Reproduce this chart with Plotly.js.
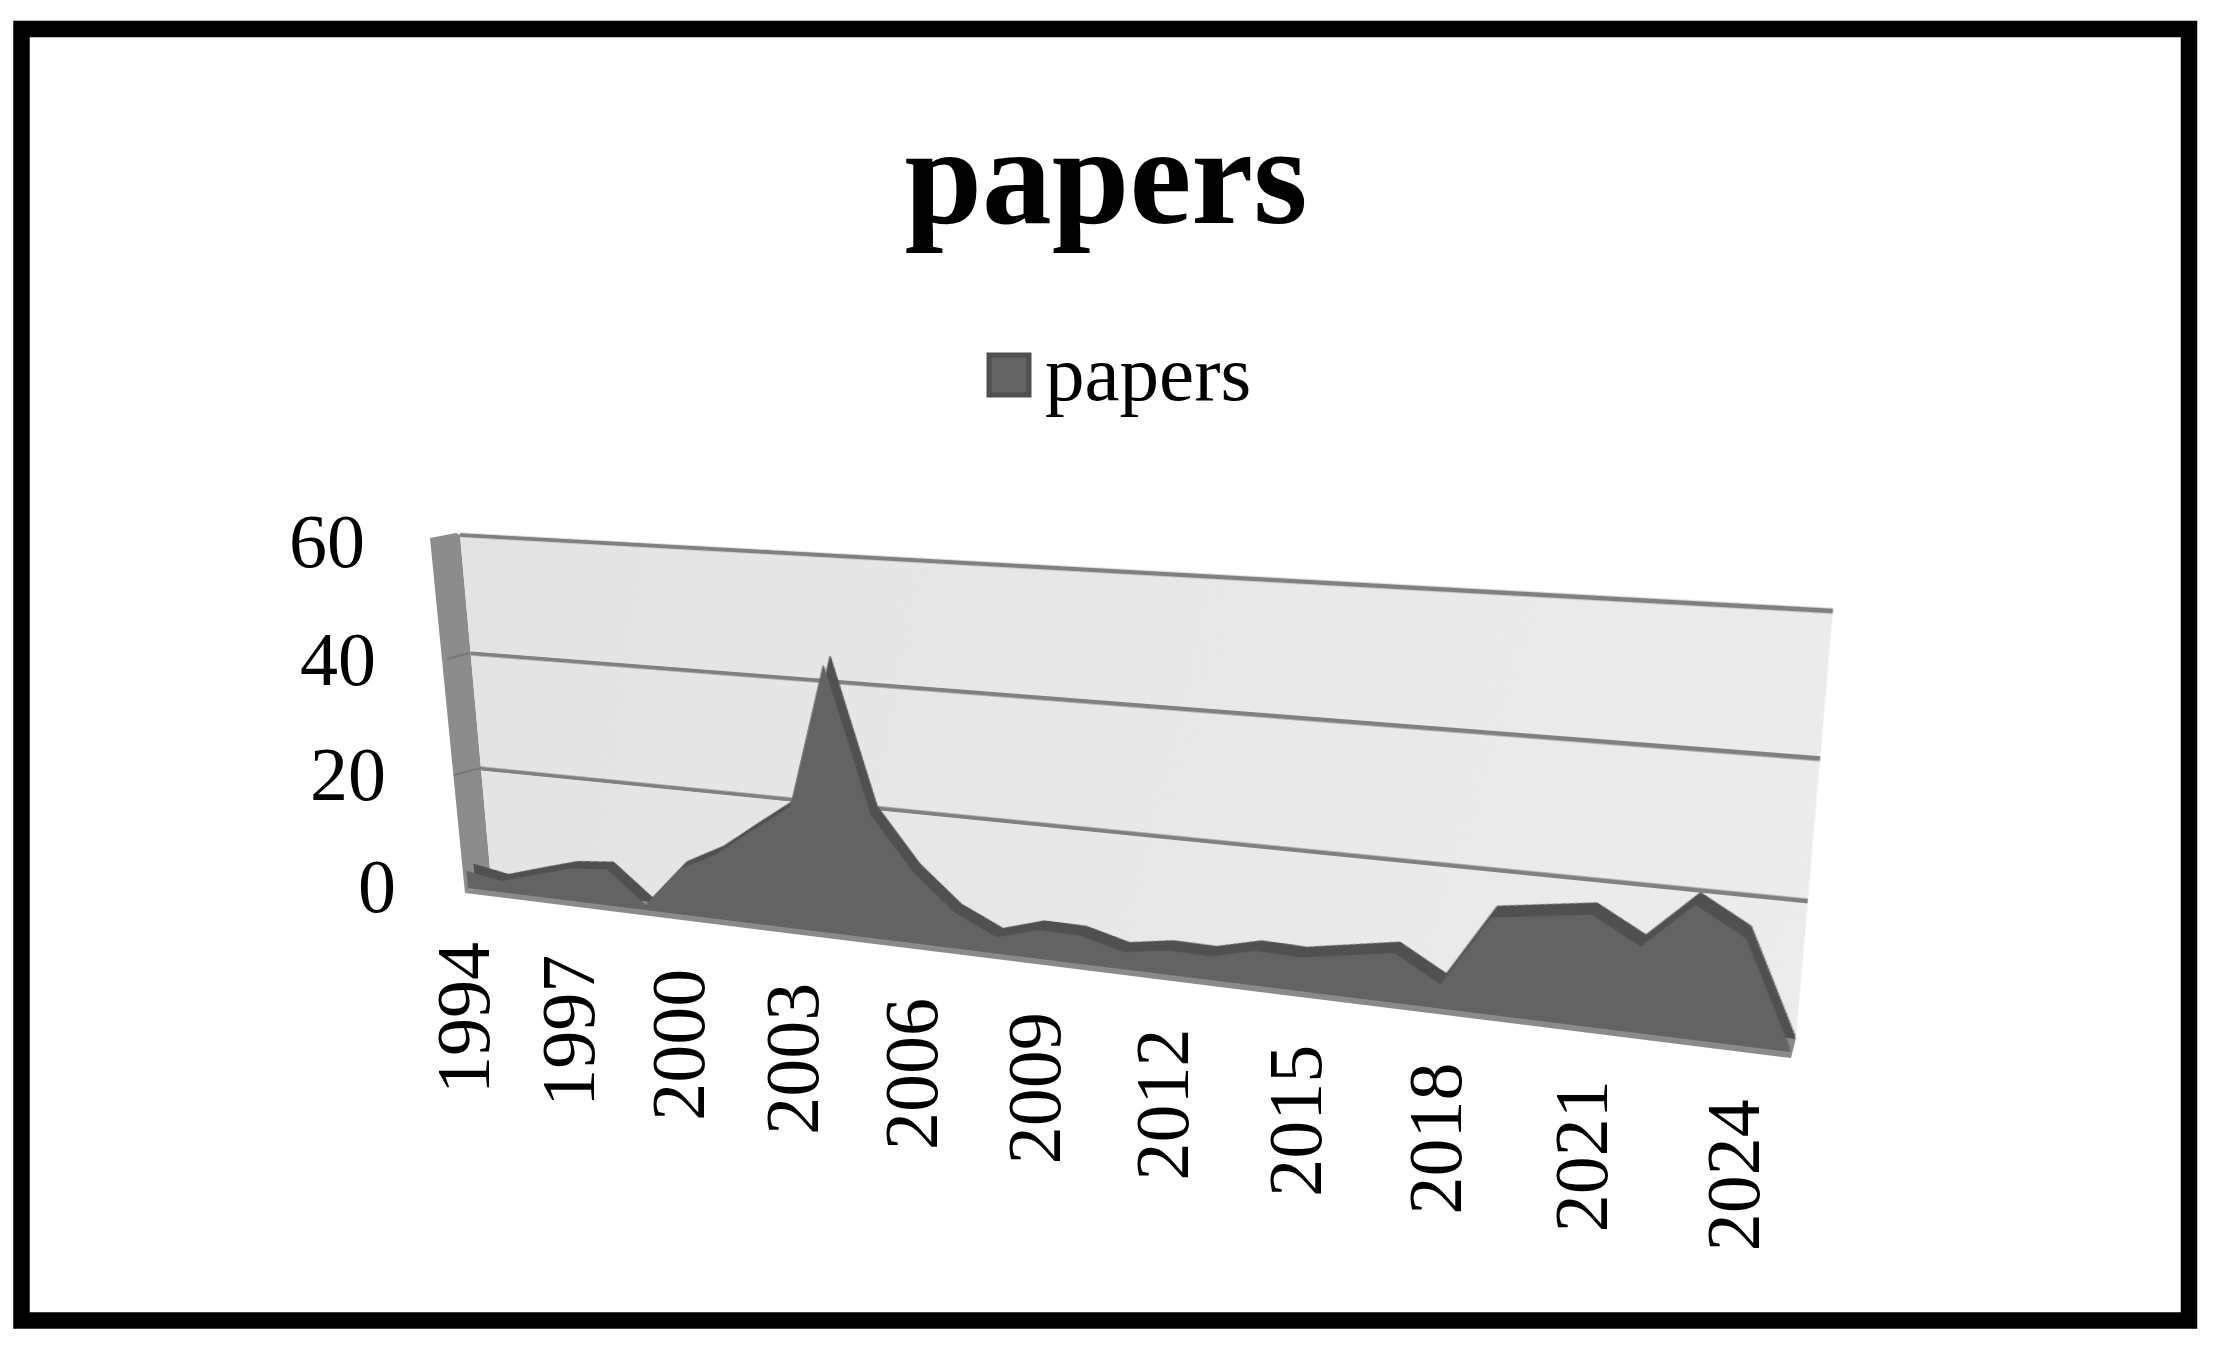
<!DOCTYPE html>
<html>
<head>
<meta charset="utf-8">
<script src="https://cdn.plot.ly/plotly-3.0.1.min.js"></script>
<style>
html,body{margin:0;padding:0;background:#fff;overflow:hidden}
#stage{position:relative;width:2215px;height:1348px;overflow:hidden}
.layer{position:absolute;left:0;top:0;transform-origin:0 0}
.soft{filter:blur(0.7px)}
</style>
</head>
<body>
<div id="stage">
  <div id="base" class="layer"></div>
  <div id="wall" class="layer soft"></div>
  <div id="areaBack" class="layer soft"></div>
  <div id="areaFront" class="layer soft"></div>
</div>
<script>
// ---- data ----
const years = [1994,1995,1996,1997,1998,1999,2000,2001,2002,2003,2004,2005,2006,2007,2008,2009,
               2010,2011,2012,2013,2014,2015,2016,2017,2018,2019,2020,2021,2022,2023,2024,2025];
const papers = [3,1.9,3.8,5.6,6.2,0.8,7.7,11,15.7,20.3,43.5,20.3,11.7,5.8,2.6,4.6,
                4.5,2.7,3.8,3.7,5.4,5.2,6.4,7.6,3.6,14.6,15.6,16.6,12.7,19.6,15.6,0.3];
const xTickYears = [1994,1997,2000,2003,2006,2009,2012,2015,2018,2021,2024];
const yTickValues = [0,20,40,60];
const seriesName = 'papers';
const chartTitle = 'papers';

// ---- the tilted planes of the 3-D look: [top-left, top-right, bottom-right, bottom-left] ----
const wallQuad  = [[460,535],[1833,611],[1796,1038],[491,880]];
const backQuad  = [[441,527],[1831,607],[1795,1039],[475,881]];
const frontQuad = [[434,535],[1826,621],[1790,1052],[468,888]];
const sideWall  = [[430,538],[456,533],[460,535],[491,880],[465,893]];
const floorBand = [[465,893],[1791,1058],[1796,1038],[491,880]];

const PW = 1000, PH = 400, M = 20;
const FONT = '"Liberation Serif","Times New Roman",serif';

function unitToQuad(q){
  const [[x0,y0],[x1,y1],[x2,y2],[x3,y3]] = q;
  const dx1=x1-x2, dx2=x3-x2, sx=x0-x1+x2-x3;
  const dy1=y1-y2, dy2=y3-y2, sy=y0-y1+y2-y3;
  const den=dx1*dy2-dx2*dy1;
  const g=(sx*dy2-dx2*sy)/den, h=(dx1*sy-sx*dy1)/den;
  return {a:x1-x0+g*x1, b:x3-x0+h*x3, c:x0, d:y1-y0+g*y1, e:y3-y0+h*y3, f:y0, g, h};
}
function cssMatrix(q){
  const Q=unitToQuad(q), ox=M, oy=M;
  const m=[Q.a/PW, Q.d/PW, 0, Q.g/PW,
           Q.b/PH, Q.e/PH, 0, Q.h/PH,
           0,0,1,0,
           Q.c-ox*Q.a/PW-oy*Q.b/PH, Q.f-ox*Q.d/PW-oy*Q.e/PH, 0, 1-ox*Q.g/PW-oy*Q.h/PH];
  return 'matrix3d('+m.join(',')+')';
}
function project(q,year,value){
  const Q=unitToQuad(q);
  const u=(year-years[0])/(years[years.length-1]-years[0]), v=1-value/60;
  const w=Q.g*u+Q.h*v+1;
  return [(Q.a*u+Q.b*v+Q.c)/w,(Q.d*u+Q.e*v+Q.f)/w];
}
function polyPath(p){return 'M'+p.map(a=>a.join(',')).join('L')+'Z';}

const hiddenAxis = r => ({range:r,visible:false,fixedrange:true,showgrid:false,zeroline:false});
const config = {staticPlot:true,displayModeBar:false};
function planeLayout(extraY,extra){
  return Object.assign({
    width:PW+2*M,height:PH+2*M,margin:{l:M,r:M,t:M,b:M,pad:0},
    paper_bgcolor:'rgba(0,0,0,0)',plot_bgcolor:'rgba(0,0,0,0)',showlegend:false,
    xaxis:hiddenAxis([years[0],years[years.length-1]]),
    yaxis:Object.assign(hiddenAxis([0,60]),extraY||{})
  },extra||{});
}

// ---- back wall with the value gridlines ----
const wallEl=document.getElementById('wall');
wallEl.style.background='linear-gradient(100deg,#e3e3e3,#ececec) no-repeat '+M+'px '+M+'px / '+PW+'px '+PH+'px';
wallEl.style.transform=cssMatrix(wallQuad);
Plotly.newPlot(wallEl,[{x:years,y:years.map(()=>null),type:'scatter',mode:'lines',hoverinfo:'skip'}],
  planeLayout({},{shapes:yTickValues.slice(1).map(v=>({type:'line',xref:'paper',yref:'paper',x0:0,x1:1,y0:v/60,y1:v/60,
    line:{color:'#808080',width:4.5},layer:'above'}))}),config);

// ---- the area: dark rear face and lighter front face, same values ----
function drawArea(id,quad,color){
  const el=document.getElementById(id);
  el.style.transform=cssMatrix(quad);
  Plotly.newPlot(el,[{x:years,y:papers,name:seriesName,type:'scatter',mode:'lines',
    fill:'tozeroy',fillcolor:color,line:{color:color,width:1}}],planeLayout(),config);
}
drawArea('areaBack',backQuad,'#505050');
drawArea('areaFront',frontQuad,'#636363');

// ---- flat page: frame, side wall, floor, title, legend, tick labels ----
const annotations=[];
xTickYears.forEach(y=>{
  const p=project(frontQuad,y,0);
  annotations.push({x:p[0]-5,y:p[1]+130,text:String(y),textangle:-90,showarrow:false,xref:'x',yref:'y',
    xanchor:'center',yanchor:'middle',font:{family:FONT,size:76,color:'#000'}});
});
yTickValues.forEach(v=>{
  const p=project(wallQuad,years[0],v);
  annotations.push({x:p[0]-93,y:p[1]+6,text:String(v),showarrow:false,xref:'x',yref:'y',
    xanchor:'right',yanchor:'middle',font:{family:FONT,size:76,color:'#000'}});
});
annotations.push({x:1043,y:373,text:seriesName,showarrow:false,xref:'x',yref:'y',
  xanchor:'left',yanchor:'middle',font:{family:FONT,size:79,color:'#000'}});

const shapes=[
  {type:'path',path:polyPath(sideWall),fillcolor:'#8c8c8c',line:{width:0},layer:'below'},
  {type:'path',path:polyPath(floorBand),fillcolor:'#8a8a8a',line:{width:0},layer:'below'},
  {type:'line',x0:447,y0:659,x1:470,y1:653,line:{color:'#777',width:2},layer:'below'},
  {type:'line',x0:454,y0:775,x1:481,y1:768,line:{color:'#777',width:2},layer:'below'},
  {type:'rect',x0:989,y0:355,x1:1029,y1:395,fillcolor:'#636363',line:{color:'#4f4f4f',width:5}},
  {type:'rect',x0:21.5,y0:29,x1:2189,y1:1320.5,fillcolor:'rgba(0,0,0,0)',line:{color:'#000',width:16.5}}
];
Plotly.newPlot('base',[{x:[null],y:[null],type:'scatter',mode:'lines',hoverinfo:'skip'}],{
  width:2215,height:1348,margin:{l:0,r:0,t:0,b:0,pad:0},
  paper_bgcolor:'#fff',plot_bgcolor:'#fff',showlegend:false,
  title:{text:chartTitle,font:{family:FONT,size:139.5,color:'#000',weight:'bold'},
    x:1106/2215,xanchor:'center',xref:'paper',y:1-174/1348,yanchor:'middle',yref:'paper'},
  xaxis:hiddenAxis([0,2215]),yaxis:hiddenAxis([1348,0]),
  shapes,annotations
},config);
</script>
</body>
</html>
